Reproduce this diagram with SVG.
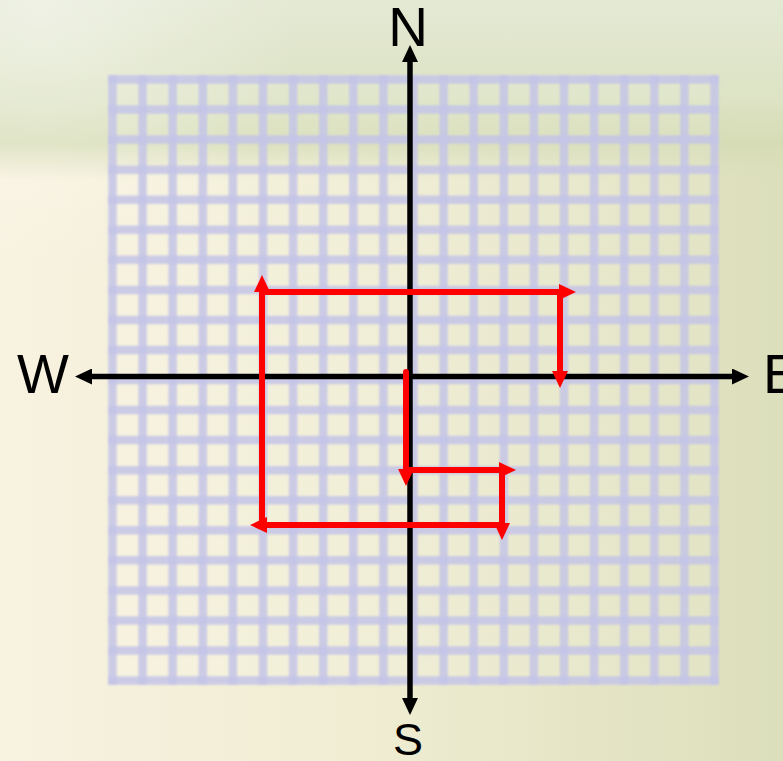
<svg xmlns="http://www.w3.org/2000/svg" width="783" height="761" viewBox="0 0 783 761">
<defs>
<linearGradient id="bgH" x1="0" y1="0" x2="1" y2="0">
<stop offset="0" stop-color="#f8f2e0"/>
<stop offset="0.45" stop-color="#f0edd3"/>
<stop offset="1" stop-color="#dcdfbb"/>
</linearGradient>
<linearGradient id="topBand" gradientUnits="userSpaceOnUse" x1="0" y1="0" x2="0" y2="180">
<stop offset="0" stop-color="#e4e9d4" stop-opacity="1"/>
<stop offset="0.55" stop-color="#dde3c4" stop-opacity="1"/>
<stop offset="0.8" stop-color="#d5dcb4" stop-opacity="0.9"/>
<stop offset="1" stop-color="#d8ddb8" stop-opacity="0"/>
</linearGradient>
<radialGradient id="glow" gradientUnits="userSpaceOnUse" cx="40" cy="20" r="260">
<stop offset="0" stop-color="#ffffff" stop-opacity="0.4"/>
<stop offset="1" stop-color="#ffffff" stop-opacity="0"/>
</radialGradient>
<filter id="soft" x="-5%" y="-5%" width="110%" height="110%">
<feGaussianBlur stdDeviation="1"/>
</filter>
<marker id="ab" markerUnits="userSpaceOnUse" viewBox="0 0 17 16" markerWidth="17" markerHeight="16" refX="1" refY="8" orient="auto">
<path d="M0,0 L17,8 L0,16 z" fill="#000"/>
</marker>
<marker id="ar" markerUnits="userSpaceOnUse" viewBox="0 0 17 16" markerWidth="17" markerHeight="16" refX="1" refY="8" orient="auto">
<path d="M0,0 L17,8 L0,16 z" fill="#ff0000"/>
</marker>
</defs>
<style>
.grid{fill:none;stroke:#c4c4e8;stroke-width:8.5;stroke-opacity:0.85}
.axis{fill:none;stroke:#000;stroke-width:5.5;marker-end:url(#ab)}
.route{fill:none;stroke:#ff0000;stroke-width:6;stroke-linecap:round;marker-end:url(#ar)}
.lbl{font-family:"Liberation Sans","DejaVu Sans",sans-serif;font-size:55px;fill:#000}
</style>
<g id="background">
<rect x="0" y="0" width="783" height="761" fill="url(#bgH)"/>
<rect x="0" y="0" width="783" height="180" fill="url(#topBand)"/>
<rect x="0" y="0" width="783" height="300" fill="url(#glow)"/>
</g>
<g id="grid" filter="url(#soft)">
<rect x="108" y="75" width="611" height="610" fill="#ffffff" fill-opacity="0.1"/>
<path class="grid" d="M112.5,75V685M142.6,75V685M172.7,75V685M202.8,75V685M232.9,75V685M263,75V685M293.1,75V685M323.2,75V685M353.3,75V685M383.4,75V685M413.5,75V685M443.6,75V685M473.7,75V685M503.8,75V685M533.9,75V685M564,75V685M594.1,75V685M624.2,75V685M654.3,75V685M684.4,75V685M714.5,75V685"/>
<path class="grid" d="M108,79.5H719M108,109.6H719M108,139.6H719M108,169.7H719M108,199.7H719M108,229.8H719M108,259.8H719M108,289.9H719M108,319.9H719M108,350H719M108,380H719M108,410H719M108,440.1H719M108,470.2H719M108,500.2H719M108,530.3H719M108,560.3H719M108,590.4H719M108,620.4H719M108,650.5H719M108,680.5H719"/>
</g>
<g id="axes">
<path class="axis" d="M410,377V61"/>
<path class="axis" d="M410,377V699"/>
<path class="axis" d="M410,376.5H91"/>
<path class="axis" d="M410,376.5H733"/>
</g>
<g id="labels">
<text id="N" class="lbl" x="408" y="46" text-anchor="middle">N</text>
<text id="W" class="lbl" x="43" y="393" text-anchor="middle">W</text>
<text id="E" class="lbl" x="763" y="393">E</text>
<text id="S" class="lbl" x="408" y="755" text-anchor="middle" style="font-size:45px">S</text>
</g>
<g id="connectors">
<path class="route" d="M406,372V470"/>
<path class="route" d="M406,470H500"/>
<path class="route" d="M502,470V524"/>
<path class="route" d="M502,525H266"/>
<path class="route" d="M262,525V291"/>
<path class="route" d="M262,292H560"/>
<path class="route" d="M560,292V372"/>
</g>
</svg>
